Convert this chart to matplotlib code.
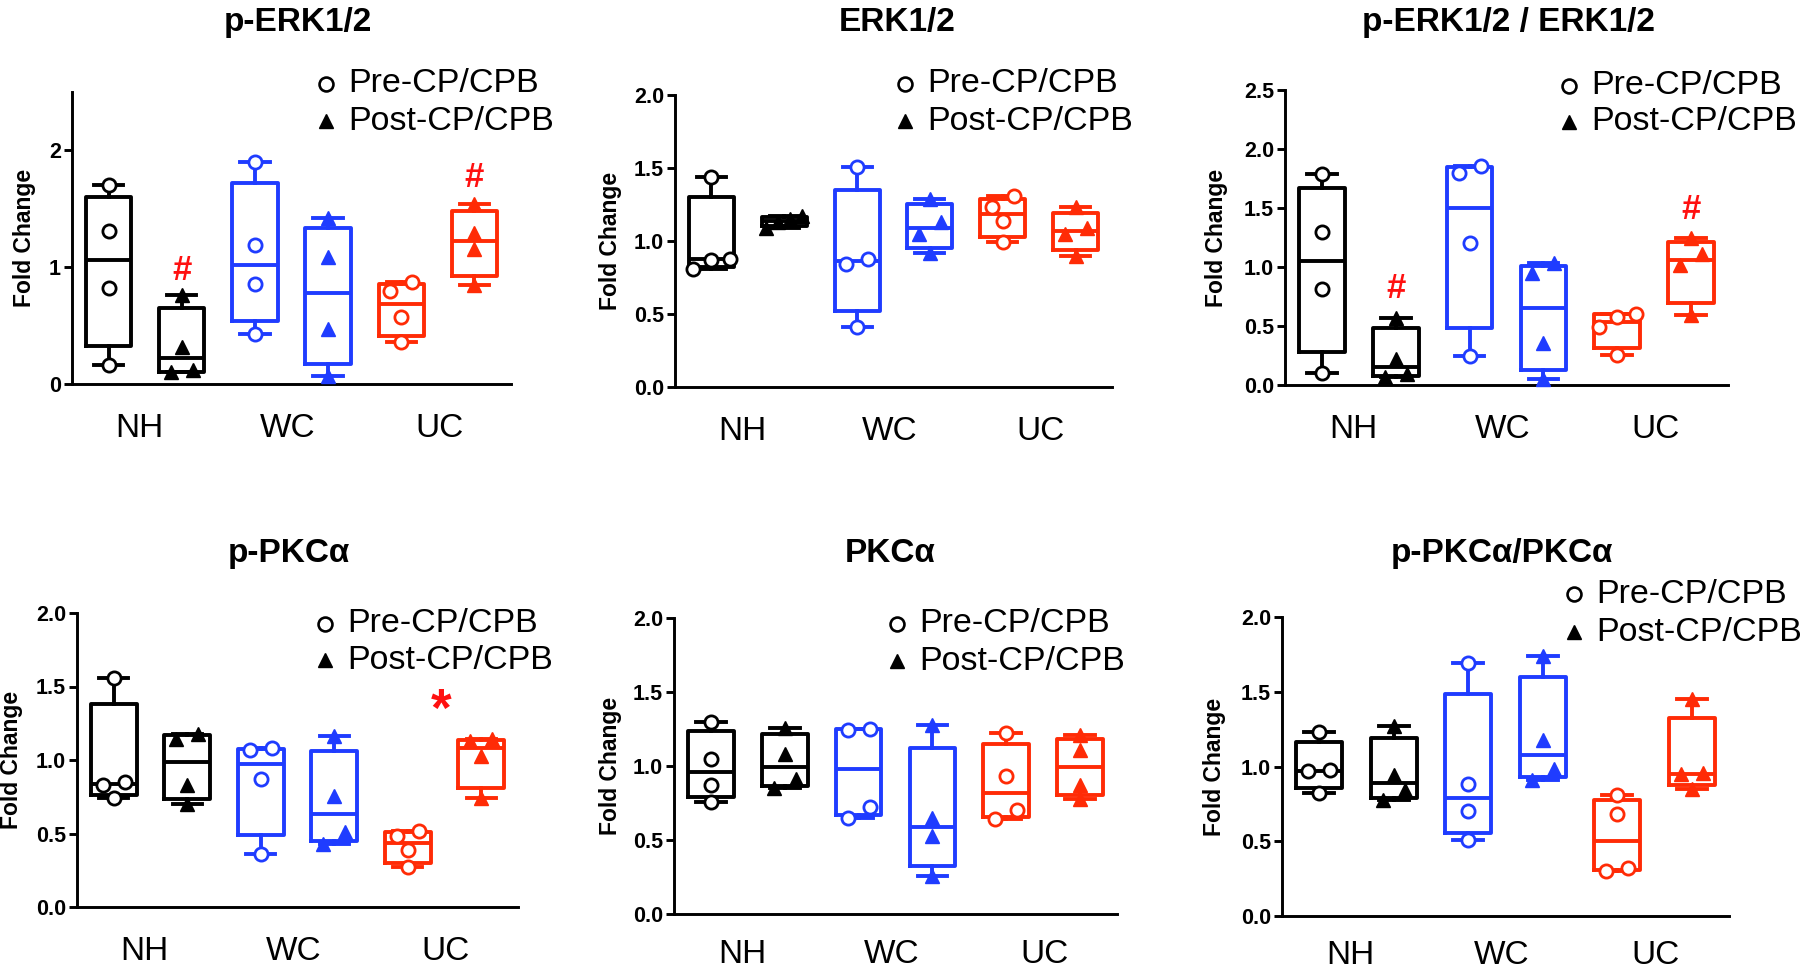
import numpy as np
import matplotlib
matplotlib.use("Agg")
import matplotlib.pyplot as plt
from matplotlib.lines import Line2D

plt.rcParams["font.family"] = ["Liberation Sans", "DejaVu Sans"]

groups = ["NH", "WC", "UC"]
conditions = ["Pre-CP/CPB", "Post-CP/CPB"]
group_colors = ["#000000", "#1f3cff", "#ff2b06"]
mark_color = "#ff1010"

# four animals per box, box order: NH pre, NH post, WC pre, WC post, UC pre, UC post
perk = [
    [1.70, 1.31, 0.82, 0.16],
    [0.76, 0.32, 0.12, 0.10],
    [1.90, 1.19, 0.855, 0.43],
    [1.42, 1.09, 0.47, 0.07],
    [0.87, 0.80, 0.57, 0.36],
    [1.54, 1.29, 1.16, 0.85],
]
erk = [
    [1.44, 0.88, 0.87, 0.81],
    [1.17, 1.15, 1.13, 1.09],
    [1.51, 0.88, 0.84, 0.41],
    [1.29, 1.13, 1.05, 0.92],
    [1.31, 1.23, 1.14, 0.99],
    [1.23, 1.09, 1.05, 0.90],
]
perk_ratio = [
    [1.79, 1.30, 0.81, 0.10],
    [0.57, 0.22, 0.09, 0.07],
    [1.86, 1.80, 1.20, 0.245],
    [1.03, 0.945, 0.36, 0.055],
    [0.605, 0.58, 0.49, 0.255],
    [1.245, 1.11, 1.015, 0.59],
]
ppkc = [
    [1.56, 0.85, 0.83, 0.74],
    [1.18, 1.14, 0.83, 0.70],
    [1.08, 1.07, 0.87, 0.36],
    [1.16, 0.755, 0.51, 0.43],
    [0.52, 0.48, 0.39, 0.27],
    [1.14, 1.13, 1.03, 0.74],
]
pkc = [
    [1.30, 1.05, 0.87, 0.76],
    [1.26, 1.08, 0.91, 0.85],
    [1.25, 1.24, 0.72, 0.65],
    [1.28, 0.65, 0.53, 0.26],
    [1.22, 0.935, 0.70, 0.64],
    [1.21, 1.11, 0.87, 0.78],
]
ppkc_ratio = [
    [1.23, 0.975, 0.97, 0.82],
    [1.27, 0.94, 0.84, 0.775],
    [1.69, 0.88, 0.70, 0.51],
    [1.74, 1.18, 0.98, 0.91],
    [0.81, 0.68, 0.32, 0.30],
    [1.45, 0.955, 0.95, 0.85],
]

# significance marks: (box index, y value, symbol)
perk_marks = [(1, 0.97, "#"), (5, 1.77, "#")]
perk_ratio_marks = [(1, 0.82, "#"), (5, 1.49, "#")]
ppkc_marks = [(4.45, 1.33, "*")]

W, H = 1800, 972

panels = [
    dict(title="p-ERK1/2", data=perk, ymax=2.5, ticks=[0, 1, 2], fmt="{:.0f}",
         box=(72, 92, 511, 384), title_xy=(298, 22), ylab_x=25,
         leg=(326, 84, 121), marks=perk_marks, xpad=21),
    dict(title="ERK1/2", data=erk, ymax=2.0, ticks=[0, 0.5, 1, 1.5, 2], fmt="{:.1f}",
         box=(675, 95, 1112, 387), title_xy=(897, 22), ylab_x=610,
         leg=(905, 84, 121), marks=[], xpad=21),
    dict(title="p-ERK1/2 / ERK1/2", data=perk_ratio, ymax=2.5,
         ticks=[0, 0.5, 1, 1.5, 2, 2.5], fmt="{:.1f}",
         box=(1285, 90, 1728, 385), title_xy=(1508, 22), ylab_x=1217,
         leg=(1569, 86, 122), marks=perk_ratio_marks, xpad=21),
    dict(title="p-PKCα", data=ppkc, ymax=2.0, ticks=[0, 0.5, 1, 1.5, 2], fmt="{:.1f}",
         box=(77, 613, 518, 907), title_xy=(289, 553), ylab_x=12,
         leg=(325, 624, 660), marks=ppkc_marks, xpad=21),
    dict(title="PKCα", data=pkc, ymax=2.0, ticks=[0, 0.5, 1, 1.5, 2], fmt="{:.1f}",
         box=(674, 618, 1117, 914), title_xy=(890, 553), ylab_x=610,
         leg=(897, 624, 661), marks=[], xpad=18),
    dict(title="p-PKCα/PKCα", data=ppkc_ratio, ymax=2.0, ticks=[0, 0.5, 1, 1.5, 2],
         fmt="{:.1f}", box=(1282, 617, 1729, 916), title_xy=(1502, 553), ylab_x=1215,
         leg=(1574, 594, 632), marks=[], xpad=17),
]


def fx(x):
    return x / W


def fy(y):
    return 1 - y / H


def quartile_stats(vals):
    v = np.asarray(vals, dtype=float)
    q1, med, q3 = np.percentile(v, [25, 50, 75], method="weibull")
    return dict(med=med, q1=q1, q3=q3, whislo=v.min(), whishi=v.max(), fliers=[])


def dodge(vals, thr, step=0.3):
    # spread points that would sit on top of each other, like Prism does
    vals = np.asarray(vals, dtype=float)
    order = np.argsort(vals)
    offs = np.zeros(len(vals))
    clusters, cur = [], [order[0]]
    for i in order[1:]:
        if vals[i] - vals[cur[-1]] < thr:
            cur.append(i)
        else:
            clusters.append(cur)
            cur = [i]
    clusters.append(cur)
    for c in clusters:
        k = len(c)
        st = step if k < 3 else min(step, 0.5 / (k - 1))
        for j, idx in enumerate(c):
            offs[idx] = (j - (k - 1) / 2) * st
    return offs


fig = plt.figure(figsize=(W / 100, H / 100), dpi=100)

lw = 2.8
for p in panels:
    x0, y0, x1, y1 = p["box"]
    ax = fig.add_axes([fx(x0), fy(y1), fx(x1 - x0), (y1 - y0) / H])
    ax.set_xlim(-0.5, 5.5)
    ax.set_ylim(0, p["ymax"])
    for s in ["top", "right"]:
        ax.spines[s].set_visible(False)
    for s in ["left", "bottom"]:
        ax.spines[s].set_linewidth(2.1)

    thr = 0.043 * p["ymax"]
    for i, vals in enumerate(p["data"]):
        col = group_colors[i // 2]
        ax.bxp([quartile_stats(vals)], positions=[i], widths=0.62, capwidths=0.4,
               showfliers=False,
               boxprops=dict(color=col, lw=lw),
               whiskerprops=dict(color=col, lw=lw),
               capprops=dict(color=col, lw=lw),
               medianprops=dict(color=col, lw=lw))
        xs = i + dodge(vals, thr)
        if i % 2 == 0:
            ax.plot(xs, vals, "o", ms=9.5, mfc="white", mec=col, mew=2.0,
                    ls="none", zorder=5, clip_on=False)
        else:
            ax.plot(xs, vals, "^", ms=9.5, color=col, ls="none", zorder=5, clip_on=False)

    for pos, yv, sym in p["marks"]:
        size = 25 if sym == "#" else 38
        ax.text(pos, yv, sym, color=mark_color, fontsize=size, fontweight="bold",
                ha="center", va="center")

    ax.set_yticks(p["ticks"])
    ax.set_yticklabels([p["fmt"].format(t) for t in p["ticks"]],
                       fontsize=15.5, fontweight="bold")
    ax.tick_params(axis="y", length=6, width=2.1, pad=2)
    ax.set_xticks([0.42, 2.45, 4.52])
    ax.set_xticklabels(groups, fontsize=24)
    ax.tick_params(axis="x", length=0, pad=p["xpad"])

    fig.text(fx(p["title_xy"][0]), fy(p["title_xy"][1]), p["title"],
             fontsize=24, fontweight="bold", ha="center", va="center")
    fig.text(fx(p["ylab_x"]), fy((y0 + y1) / 2), "Fold Change", rotation=90,
             fontsize=16.5, fontweight="bold", ha="center", va="center")

    lx, ly_pre, ly_post = p["leg"]
    fig.add_artist(Line2D([fx(lx)], [fy(ly_pre)], marker="o", ms=10, mfc="white",
                          mec="black", mew=1.9, ls="none", transform=fig.transFigure))
    fig.add_artist(Line2D([fx(lx)], [fy(ly_post)], marker="^", ms=10, color="black",
                          ls="none", transform=fig.transFigure))
    fig.text(fx(lx + 22), fy(ly_pre), conditions[0], fontsize=24.5, va="center", ha="left")
    fig.text(fx(lx + 22), fy(ly_post), conditions[1], fontsize=24.5, va="center", ha="left")

fig.savefig("out.png", dpi=100, facecolor="white")
